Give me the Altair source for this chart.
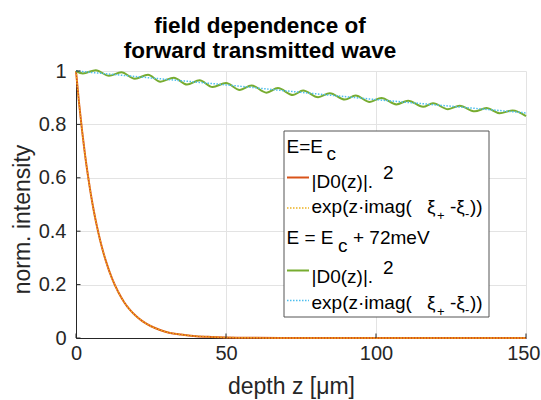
import altair as alt
import pandas as pd

FONT = "Liberation Sans"

# ---------------- data ----------------
# E = Ec : |D0(z)|^2 and exp(z*imag(xi+ - xi-)) (visually identical)
z_ec = [0, 1, 2, 3, 4, 5, 6, 7, 8, 9, 10, 12, 14, 16, 18, 20, 22, 25, 28, 31,
        35, 40, 45, 50, 60, 70, 80, 100, 120, 150]
d0_ec = [1.0, 0.882, 0.779, 0.687, 0.607, 0.535, 0.472, 0.417, 0.368, 0.325,
         0.287, 0.223, 0.174, 0.135, 0.105, 0.082, 0.064, 0.044, 0.030, 0.020,
         0.013, 0.007, 0.004, 0.002, 0.0006, 0.0002, 0.0, 0.0, 0.0, 0.0]
exp_ec = [1.0, 0.882, 0.779, 0.687, 0.607, 0.535, 0.472, 0.417, 0.368, 0.325,
          0.287, 0.223, 0.174, 0.135, 0.105, 0.082, 0.064, 0.044, 0.030, 0.020,
          0.013, 0.007, 0.004, 0.002, 0.0006, 0.0002, 0.0, 0.0, 0.0, 0.0]

# E = Ec + 72 meV : |D0(z)|^2 (oscillating; extrema)
z_72 = [0, 2.3, 6.6, 11.0, 15.1, 19.6, 24.0, 28.1, 32.6, 37.0, 41.2, 45.5,
        50.0, 54.6, 58.5, 63.5, 67.3, 72.3, 75.7, 80.7, 84.6, 89.6, 93.2, 97.9,
        101.8, 106.8, 110.7, 115.7, 119.0, 124.0, 127.9, 132.9, 136.8, 141.2,
        145.5, 150.0]
d0_72 = [1.0, 0.991, 1.003, 0.982, 0.995, 0.971, 0.986, 0.960, 0.975, 0.949,
         0.965, 0.940, 0.955, 0.929, 0.946, 0.919, 0.936, 0.910, 0.927, 0.902,
         0.917, 0.893, 0.908, 0.884, 0.899, 0.875, 0.889, 0.866, 0.879, 0.857,
         0.870, 0.849, 0.861, 0.842, 0.852, 0.831]
# E = Ec + 72 meV : exp(z*imag(xi+ - xi-))
z_72_exp = [0, 25, 50, 75, 100, 125, 150]
exp_72 = [1.0, 0.974, 0.948, 0.920, 0.893, 0.868, 0.843]

x_ticks = [0, 50, 100, 150]
y_ticks = [0, 0.2, 0.4, 0.6, 0.8, 1.0]

title_lines = ["\u00a0\u00a0\u00a0field dependence of", "forward transmitted wave"]
x_title = "depth z [μm]"
y_title = "norm. intensity"

C_RED = "#D95319"
C_YEL = "#EDB120"
C_GRN = "#77AC30"
C_BLU = "#4DBEEE"
INK = "#262626"

# ---------------- plot ----------------
OX, OY = 76, 71  # plot-area origin inside the page

xs = alt.Scale(domain=[0, 150], nice=False, zero=False)
ys = alt.Scale(domain=[0, 1], nice=False, zero=False)

x_axis = alt.Axis(
    values=x_ticks, title=x_title, format=".1~f", grid=True, ticks=False,
    labelPadding=5, labelFlush=False,
    labelAlign={"condition": {"test": "datum.value >= 150", "value": "right"},
                "value": "center"},
    labelOffset={"condition": {"test": "datum.value >= 150", "value": 14},
                 "value": 0},
    titleX=215, titleY=55, titleBaseline="alphabetic")
y_axis = alt.Axis(values=y_ticks, title=y_title, format=".1~f", grid=True,
                  ticks=False, labelPadding=10, labelFlush=False, titleX=-54,
                  titleY=148, titleBaseline="middle")

X = lambda f: alt.X(f, scale=xs, axis=x_axis)
Y = lambda f: alt.Y(f, scale=ys, axis=y_axis)


def series(z, v, color, width, dash=None):
    df = pd.DataFrame({"z": z, "v": v})
    kw = dict(color=color, strokeWidth=width, interpolate="monotone")
    if dash:
        kw["strokeDash"] = dash
    return alt.Chart(df).mark_line(**kw).encode(x=X("z:Q"), y=Y("v:Q"))


red = series(z_ec, d0_ec, C_RED, 2.0)
yel = series(z_ec, exp_ec, C_YEL, 1.5, dash=[1.5, 1.5])
grn = series(z_72, d0_72, C_GRN, 2.0)
blu = series(z_72_exp, exp_72, C_BLU, 1.5, dash=[1.5, 1.5])

# inward tick marks (MATLAB style)
ytk = alt.Chart(pd.DataFrame({"t": y_ticks})).mark_rule(color=INK, strokeWidth=1).encode(
    x=alt.value(0), x2=alt.value(4.5), y=Y("t:Q"))
xtk = alt.Chart(pd.DataFrame({"t": x_ticks})).mark_rule(color=INK, strokeWidth=1).encode(
    x=X("t:Q"), y=alt.value(267), y2=alt.value(262.5))

one = pd.DataFrame({"a": [0]})


def txt(s, x, y, size=19, **kw):
    return alt.Chart(one).mark_text(align="left", baseline="alphabetic",
                                    fontSize=size, font=FONT, color="#000", **kw).encode(
        x=alt.value(x - OX), y=alt.value(y - OY), text=alt.value(s))


def sample(y, color, width, dash=None):
    kw = dict(color=color, strokeWidth=width)
    if dash:
        kw["strokeDash"] = dash
    return alt.Chart(one).mark_rule(**kw).encode(
        x=alt.value(287 - OX), x2=alt.value(309 - OX), y=alt.value(y - OY))


box = alt.Chart(one).mark_rect(fill="white", stroke="#555555", strokeWidth=1).encode(
    x=alt.value(284 - OX), x2=alt.value(489 - OX),
    y=alt.value(131 - OY), y2=alt.value(317 - OY))

legend_labels = ["E=E", "c", "|D0(z)|.", "2", "exp(z·imag(", "ξ", "+", "-ξ", "-", "))",
                 "E = E", "+ 72meV"]


def exp_row(base):
    return [
        txt(legend_labels[4], 311.5, base),
        txt(legend_labels[5], 427, base, style="italic"),
        txt(legend_labels[6], 437, base + 7, size=13),
        txt(legend_labels[7], 450, base, style="italic"),
        txt(legend_labels[8], 465, base + 5, size=13),
        txt(legend_labels[9], 470, base),
    ]


legend_layers = [
    box,
    txt(legend_labels[0], 286.5, 153),
    txt(legend_labels[1], 326.5, 160, size=19),
    sample(177.5, C_RED, 2.0),
    txt(legend_labels[2], 311.5, 188),
    txt(legend_labels[3], 383, 179, size=19),
    sample(208, C_YEL, 1.5, [1.5, 1.5]),
    *exp_row(213),
    txt(legend_labels[10], 286.5, 244),
    txt(legend_labels[1], 338, 252, size=19),
    txt(legend_labels[11], 353, 244),
    sample(270.5, C_GRN, 2.0),
    txt(legend_labels[2], 311.5, 283),
    txt(legend_labels[3], 383, 274, size=19),
    sample(300.5, C_BLU, 1.5, [1.5, 1.5]),
    *exp_row(309),
]

chart = alt.layer(red, yel, grn, blu, ytk, xtk, *legend_layers).properties(
    width=450,
    height=267,
    autosize=alt.AutoSizeParams(type="none"),
    padding={"left": OX, "top": OY, "right": 15, "bottom": 62},
    title=alt.TitleParams(title_lines, font=FONT, fontSize=22.5, fontWeight="bold",
                          color="#000", anchor="middle", dx=-41, offset=-1,
                          lineHeight=25),
).configure_view(stroke=None).configure_axis(
    labelFont=FONT, titleFont=FONT, labelFontSize=20, titleFontSize=23,
    labelColor=INK, titleColor=INK, titleFontWeight="normal",
    domainColor=INK, domainWidth=1, gridColor="#e3e3e3", gridWidth=1,
)

chart.save("out.html", embed_options={"renderer": "svg", "actions": False})
